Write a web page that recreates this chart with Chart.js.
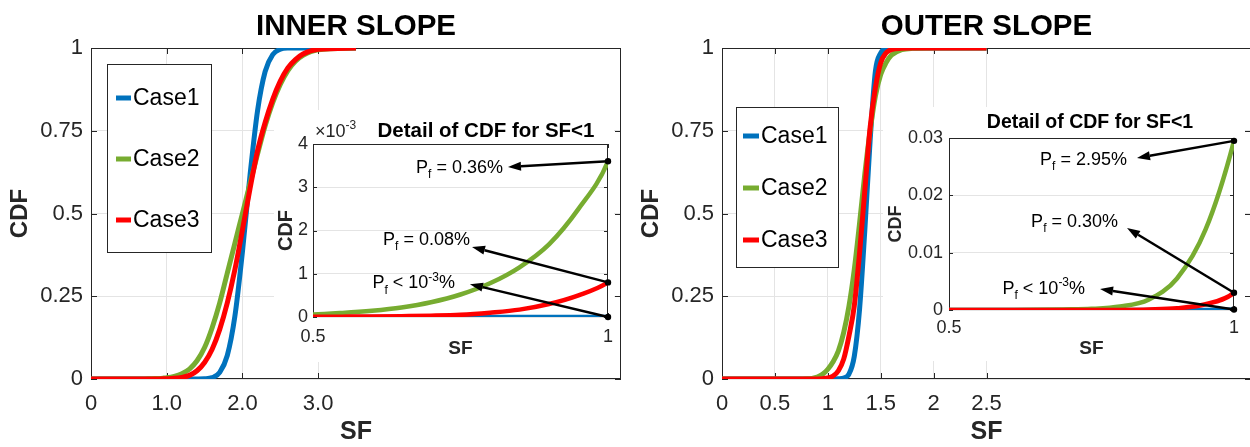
<!DOCTYPE html>
<html>
<head>
<meta charset="utf-8">
<script src="https://cdn.jsdelivr.net/npm/chart.js@4.4.1/dist/chart.umd.min.js"></script>
<style>
html,body{margin:0;padding:0;background:#fff;width:1250px;height:447px;overflow:hidden}
canvas{position:absolute}
#mainIn{left:0;top:0}
#mainOut{left:625px;top:0}
#zoomIn{left:274px;top:110px;background:#fff}
#zoomOut{left:883px;top:107px;background:#fff}
</style>
</head>
<body>
<canvas id="mainIn" width="625" height="447"></canvas>
<canvas id="mainOut" width="640" height="447"></canvas>
<canvas id="zoomIn" width="340" height="252"></canvas>
<canvas id="zoomOut" width="362" height="254"></canvas>
<script>
const cases = ['Case1','Case2','Case3'];
const colors = ['#0072BD','#77AC30','#FF0000'];

// inner slope, CDF
const sfInner = [0,0.5,0.55,0.6,0.65,0.7,0.75,0.8,0.85,0.9,0.95,1,1.1,1.2,1.3,1.4,1.5,1.6,1.7,1.8,1.9,2,2.1,2.2,2.3,2.4,2.5,2.6,2.7,2.8,3,3.5];
const innerCase1 = [0,0,0,0,0,0,0,0,0,0,0,0,0,0,0,0.0001,0.0006,0.004,0.02,0.071,0.189,0.384,0.615,0.811,0.929,0.98,0.996,0.9997,1,1,1,1];
const innerCase2 = [0,0.00006,0.000095,0.000145,0.00022,0.00034,0.00052,0.00078,0.00115,0.00168,0.0025,0.0036,0.008,0.016,0.03,0.055,0.095,0.155,0.23,0.32,0.41,0.5,0.59,0.68,0.765,0.835,0.89,0.932,0.96,0.978,0.995,1];
const innerCase3 = [0,0.000005,0.000008,0.000012,0.00002,0.00003,0.00005,0.0001,0.00017,0.0003,0.0005,0.0008,0.002,0.005,0.011,0.025,0.05,0.09,0.15,0.23,0.33,0.45,0.575,0.69,0.775,0.845,0.9,0.94,0.965,0.982,0.996,1];

// outer slope
const sfOuter = [0,0.5,0.55,0.6,0.65,0.7,0.75,0.8,0.85,0.9,0.95,1,1.05,1.1,1.15,1.2,1.25,1.3,1.35,1.4,1.45,1.5,1.55,1.6,1.7,1.8,2,2.5];
const outerCase1 = [0,0,0,0,0,0,0,0,0,0,0.00002,0.0001,0.0003,0.0008,0.003,0.015,0.068,0.21,0.45,0.72,0.93,0.985,0.998,1,1,1,1,1];
const outerCase2 = [0,0,0,0.00001,0.00003,0.0001,0.0002,0.0006,0.0018,0.0055,0.014,0.0295,0.052,0.085,0.14,0.22,0.33,0.47,0.62,0.75,0.855,0.92,0.955,0.978,0.995,0.999,1,1];
const outerCase3 = [0,0,0,0,0,0,0,0.00002,0.0001,0.0003,0.001,0.003,0.009,0.025,0.06,0.13,0.22,0.38,0.57,0.76,0.88,0.955,0.985,0.995,0.999,1,1,1];

// failure probability labels per case (SF = 1)
const pfInnerText = ['P_f < 10^{-3}%','P_f = 0.36%','P_f = 0.08%'];
const pfOuterText = ['P_f < 10^{-3}%','P_f = 2.95%','P_f = 0.30%'];

// ticks
const innerXTicks = [0,1,2,3];
const innerXLabels = ['0','1.0','2.0','3.0'];
const outerXTicks = [0,0.5,1,1.5,2,2.5];
const outerXLabels = ['0','0.5','1','1.5','2','2.5'];
const cdfTicks = [0,0.25,0.5,0.75,1];
const cdfLabels = ['0','0.25','0.5','0.75','1'];
const zoomXTicks = [0.5,1];
const zoomXLabels = ['0.5','1'];
const zoomInYTicks = [0,0.001,0.002,0.003,0.004];
const zoomInYLabels = ['0','1','2','3','4'];
const zoomOutYTicks = [0,0.01,0.02,0.03];
const zoomOutYLabels = ['0','0.01','0.02','0.03'];

const FONT = '"Liberation Sans", Arial, Helvetica, sans-serif';
Chart.defaults.font.family = FONT;
Chart.defaults.color = '#262626';

function richParts(s){
  const out=[]; let buf='', i=0;
  while(i<s.length){
    if(s[i]==='_'){ if(buf){out.push([buf,0]);buf='';} out.push([s[i+1],1]); i+=2; }
    else if(s[i]==='^'){ if(buf){out.push([buf,0]);buf='';} const j=s.indexOf('}',i); out.push([s.slice(i+2,j),2]); i=j+1; }
    else { buf+=s[i]; i++; }
  }
  if(buf) out.push([buf,0]);
  return out;
}

function drawRich(ctx,s,x,y,size,align,bold){
  const parts = richParts(s);
  const f = k => (bold?'bold ':'')+(k?Math.round(size*0.68):size)+'px '+FONT;
  let w=0;
  parts.forEach(p=>{ctx.font=f(p[1]); w+=ctx.measureText(p[0]).width;});
  let cx = align==='right' ? x-w : align==='center' ? x-w/2 : x;
  ctx.textAlign='left'; ctx.textBaseline='alphabetic';
  parts.forEach(p=>{
    ctx.font=f(p[1]);
    const dy = p[1]===1 ? size*0.3 : p[1]===2 ? -size*0.42 : 0;
    ctx.fillText(p[0],cx,y+dy);
    cx+=ctx.measureText(p[0]).width;
  });
}

// matlab style box with inward ticks
const boxPlugin = {
  id:'mbox',
  beforeDatasetsDraw(chart,args,o){
    const {ctx,chartArea:a,scales:{x,y}} = chart;
    ctx.save();
    ctx.strokeStyle='#262626'; ctx.lineWidth=1;
    ctx.strokeRect(a.left+0.5,a.top+0.5,a.right-a.left-1,a.bottom-a.top-1);
    ctx.beginPath();
    x.ticks.forEach(t=>{
      const p=Math.round(x.getPixelForValue(t.value))+0.5;
      ctx.moveTo(p,a.bottom); ctx.lineTo(p,a.bottom-o.tick);
      ctx.moveTo(p,a.top); ctx.lineTo(p,a.top+o.tick);
    });
    y.ticks.forEach(t=>{
      const p=Math.round(y.getPixelForValue(t.value))+0.5;
      ctx.moveTo(a.left,p); ctx.lineTo(a.left+o.tick,p);
      ctx.moveTo(a.right,p); ctx.lineTo(a.right-o.tick,p);
    });
    ctx.stroke();
    ctx.restore();
  }
};

const legendPlugin = {
  id:'mlegend',
  afterDatasetsDraw(chart,args,o){
    if(!o.show) return;
    const {ctx,chartArea:a} = chart;
    const bx=a.left+o.dx, by=a.top+o.dy;
    ctx.save();
    ctx.fillStyle='#fff'; ctx.fillRect(bx,by,o.w,o.h);
    ctx.strokeStyle='#262626'; ctx.lineWidth=1;
    ctx.strokeRect(bx+0.5,by+0.5,o.w,o.h);
    chart.data.datasets.forEach((d,i)=>{
      const yy=by+o.first+i*o.gap;
      ctx.strokeStyle=d.borderColor; ctx.lineWidth=5;
      ctx.beginPath(); ctx.moveTo(bx+o.sx,yy); ctx.lineTo(bx+o.sx+o.sl,yy); ctx.stroke();
      ctx.fillStyle='#000'; ctx.font='23px '+FONT; ctx.textAlign='left'; ctx.textBaseline='middle';
      ctx.fillText(d.label,bx+o.tx,yy+1);
    });
    ctx.restore();
  }
};

const titlePlugin = {
  id:'mtitle',
  afterDraw(chart,args,o){
    const {ctx,chartArea:a} = chart;
    ctx.save();
    ctx.fillStyle='#000';
    drawRich(ctx,o.text,(a.left+a.right)/2+o.dx,o.y,o.size,'center',true);
    if(o.exp){ ctx.fillStyle='#262626'; drawRich(ctx,o.exp,a.left+o.expDx,o.y,18,'left',false); }
    ctx.restore();
  }
};

// arrows from curve end (SF = 1) to the Pf text
const arrowPlugin = {
  id:'marrow',
  afterDatasetsDraw(chart,args,o){
    if(!o.notes) return;
    const {ctx,scales:{x,y}} = chart;
    ctx.save();
    o.notes.forEach((n,i)=>{
      const d = chart.data.datasets[i].data.find(p=>p.x===1);
      const x0=x.getPixelForValue(1), y0=y.getPixelForValue(d.y);
      const x1=x.getPixelForValue(n.tx), y1=y.getPixelForValue(n.ty);
      const ang=Math.atan2(y1-y0,x1-x0), hl=13, hw=4.5;
      const bxp=x1-hl*Math.cos(ang), byp=y1-hl*Math.sin(ang);
      ctx.strokeStyle='#000'; ctx.fillStyle='#000'; ctx.lineWidth=2.5;
      ctx.beginPath(); ctx.moveTo(x0,y0); ctx.lineTo(bxp,byp); ctx.stroke();
      ctx.beginPath(); ctx.moveTo(x1,y1);
      ctx.lineTo(bxp+hw*Math.sin(ang),byp-hw*Math.cos(ang));
      ctx.lineTo(bxp-hw*Math.sin(ang),byp+hw*Math.cos(ang));
      ctx.closePath(); ctx.fill();
      ctx.beginPath(); ctx.arc(x0,y0,3.2,0,Math.PI*2); ctx.fill();
      drawRich(ctx,o.text[i],x1+n.dx,y1+n.dy,18,'right',false);
    });
    ctx.restore();
  }
};

function makeChart(id,sf,series,c){
  return new Chart(document.getElementById(id),{
    type:'line',
    data:{
      datasets: series.map((s,i)=>({
        label:cases[i],
        data:sf.map((v,j)=>({x:v,y:s[j]})),
        borderColor:colors[i],
        borderWidth:c.lw,
        pointRadius:0,
        cubicInterpolationMode:'monotone',
        order:3-i
      }))
    },
    options:{
      responsive:false, animation:false, devicePixelRatio:1,
      layout:{padding:{left:0,right:c.padR,top:c.padT,bottom:0}},
      plugins:{
        legend:{display:false}, tooltip:{enabled:false},
        mbox:{tick:c.tick},
        mlegend:c.legend||{show:false},
        mtitle:c.title,
        marrow:c.arrows||{}
      },
      scales:{
        x:{
          type:'linear', min:c.xMin, max:c.xMax,
          afterBuildTicks:s=>{ s.ticks=c.xTicks.map(v=>({value:v})); },
          // fixed height, and no extra side padding for the end labels
          afterFit:s=>{ s.height=c.xH; s.paddingLeft=0; s.paddingRight=0; },
          ticks:{callback:(v,i)=>c.xLabels[i], font:{size:c.fs}, padding:c.xPad, maxRotation:0, autoSkip:false},
          grid:{color:'#e4e4e4', drawTicks:false, display:c.xGrid},
          border:{display:false},
          title:{display:true, text:'SF', font:{size:c.xtSize,weight:'bold'}, padding:{top:0,bottom:c.xtPad}}
        },
        y:{
          type:'linear', min:c.yMin, max:c.yMax,
          afterBuildTicks:s=>{ s.ticks=c.yTicks.map(v=>({value:v})); },
          afterFit:s=>{ s.width=c.yW; },
          ticks:{callback:(v,i)=>c.yLabels[i], font:{size:c.fs}, padding:c.yPad, autoSkip:false},
          grid:{color:'#e4e4e4', drawTicks:false},
          border:{display:false},
          title:{display:true, text:'CDF', font:{size:c.ytSize,weight:'bold'}, padding:{top:c.ytPad,bottom:0}}
        }
      }
    },
    plugins:[boxPlugin,legendPlugin,titlePlugin,arrowPlugin]
  });
}

makeChart('mainIn',sfInner,[innerCase1,innerCase2,innerCase3],{
  lw:5, tick:6, padR:4, padT:48, xH:68, yW:91, fs:22, xPad:12, yPad:8,
  xMin:0, xMax:7, xTicks:innerXTicks, xLabels:innerXLabels, xGrid:true,
  yMin:0, yMax:1, yTicks:cdfTicks, yLabels:cdfLabels,
  xtSize:25, xtPad:0, ytSize:24, ytPad:5.6,
  legend:{show:true, dx:16, dy:16, w:104, h:188, first:34, gap:61, sx:9, sl:15, tx:26},
  title:{text:'INNER SLOPE', dx:0, y:35, size:29.5}
});

makeChart('mainOut',sfOuter,[outerCase1,outerCase2,outerCase3],{
  lw:5, tick:6, padR:14, padT:48, xH:68, yW:97, fs:22, xPad:12, yPad:8,
  xMin:0, xMax:5, xTicks:outerXTicks, xLabels:outerXLabels, xGrid:true,
  yMin:0, yMax:1, yTicks:cdfTicks, yLabels:cdfLabels,
  xtSize:25, xtPad:0, ytSize:24, ytPad:12.3,
  legend:{show:true, dx:14, dy:59, w:102, h:160, first:29, gap:52, sx:7, sl:16, tx:25},
  title:{text:'OUTER SLOPE', dx:0, y:35, size:29.5}
});

makeChart('zoomIn',sfInner,[innerCase1,innerCase2,innerCase3],{
  lw:4.5, tick:4, padR:6, padT:34, xH:45, yW:39, fs:18, xPad:9, yPad:5,
  xMin:0.5, xMax:1, xTicks:zoomXTicks, xLabels:zoomXLabels, xGrid:false,
  yMin:0, yMax:0.004, yTicks:zoomInYTicks, yLabels:zoomInYLabels,
  xtSize:19, xtPad:2.3, ytSize:20, ytPad:0,
  title:{text:'Detail of CDF for SF<1', dx:25.5, y:27, size:20.5, exp:'\u00d710^{-3}', expDx:2},
  arrows:{text:pfInnerText, notes:[
    {tx:0.766, ty:0.00076, dx:-15, dy:4},
    {tx:0.8305, ty:0.00347, dx:-5, dy:6},
    {tx:0.7695, ty:0.00162, dx:-2, dy:-2}
  ]}
});

makeChart('zoomOut',sfOuter,[outerCase1,outerCase2,outerCase3],{
  lw:4.5, tick:4, padR:11, padT:31, xH:51, yW:66, fs:18, xPad:7, yPad:6,
  xMin:0.5, xMax:1, xTicks:zoomXTicks, xLabels:zoomXLabels, xGrid:false,
  yMin:0, yMax:0.03, yTicks:zoomOutYTicks, yLabels:zoomOutYLabels,
  xtSize:19, xtPad:0.6, ytSize:18, ytPad:2.2,
  title:{text:'Detail of CDF for SF<1', dx:-1.5, y:21, size:19.5},
  arrows:{text:pfOuterText, notes:[
    {tx:0.765, ty:0.00366, dx:-15, dy:5},
    {tx:0.8298, ty:0.0265, dx:-10, dy:7},
    {tx:0.8123, ty:0.0143, dx:-9, dy:-1}
  ]}
});
</script>
</body>
</html>
